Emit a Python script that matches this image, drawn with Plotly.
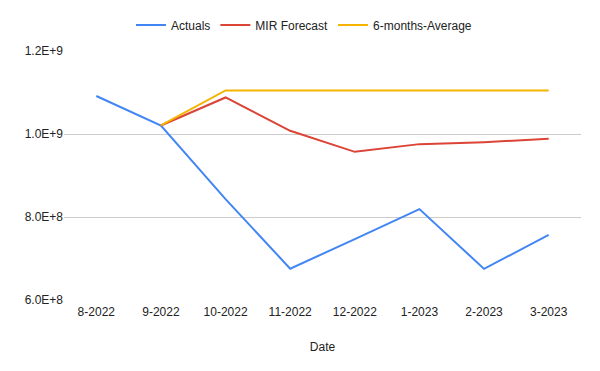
import plotly.graph_objects as go

dates = ["8-2022", "9-2022", "10-2022", "11-2022", "12-2022", "1-2023", "2-2023", "3-2023"]
actuals = [1.0915e9, 1.0205e9, 0.843e9, 0.6755e9, 0.7467e9, 0.819e9, 0.675e9, 0.757e9]
mir_dates = dates[1:]
mir_forecast = [1.0205e9, 1.088e9, 1.0077e9, 0.957e9, 0.9756e9, 0.9804e9, 0.9884e9]
avg_dates = dates[1:]
six_month_avg = [1.0205e9, 1.105e9, 1.105e9, 1.105e9, 1.105e9, 1.105e9, 1.105e9]

y_tickvals = [6e8, 8e8, 1e9, 1.2e9]
y_ticktext = ["6.0E+8", "8.0E+8", "1.0E+9", "1.2E+9"]

fig = go.Figure()
fig.add_trace(go.Scatter(x=dates, y=actuals, mode="lines", name="Actuals",
                         line=dict(color="#4285F4", width=2)))
fig.add_trace(go.Scatter(x=mir_dates, y=mir_forecast, mode="lines", name="MIR Forecast",
                         line=dict(color="#DB4437", width=2)))
fig.add_trace(go.Scatter(x=avg_dates, y=six_month_avg, mode="lines", name="6-months-Average",
                         line=dict(color="#F4B400", width=2)))

fig.update_layout(
    width=592, height=363,
    margin=dict(l=56, r=19, t=43, b=71, autoexpand=False),
    paper_bgcolor="white", plot_bgcolor="white",
    font=dict(family="Liberation Sans, Arial, sans-serif", size=12, color="#222222"),
    legend=dict(orientation="h", xref="container", yref="container",
                x=0.5, xanchor="center", y=0.953, yanchor="middle",
                font=dict(size=12, color="#222222"), itemwidth=30, traceorder="normal"),
    xaxis=dict(type="category", categoryorder="array", categoryarray=dates,
               title=dict(text="Date", font=dict(size=12, color="#222222"), standoff=24),
               showgrid=False, showline=False, ticks="", ticklabelstandoff=3,
               tickfont=dict(size=12, color="#222222"),
               range=[-0.5, 7.5]),
    yaxis=dict(range=[6e8, 1.2e9], tickvals=y_tickvals, ticktext=y_ticktext,
               showgrid=True, gridcolor="#cccccc", gridwidth=1, zeroline=False,
               showline=False, ticks="", tickfont=dict(size=12, color="#222222")),
)

fig.write_html("out.html")
